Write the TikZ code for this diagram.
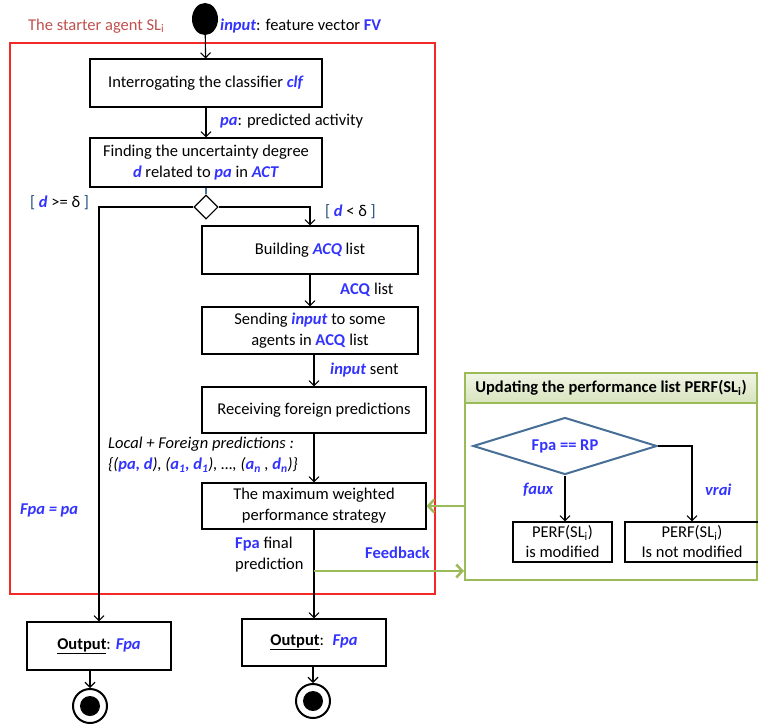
\documentclass[tikz,border=0pt]{standalone}
\usepackage{fontspec}
\setmainfont{Carlito}
\usetikzlibrary{shapes.geometric, arrows.meta, positioning}

\definecolor{varblue}{RGB}{51,51,255}
\definecolor{titlered}{RGB}{192,80,77}
\definecolor{framered}{RGB}{245,40,40}
\definecolor{vgreen}{RGB}{155,187,89}
\definecolor{dblue}{RGB}{70,110,150}
\definecolor{navy}{RGB}{31,73,125}

\newcommand{\vbi}[1]{\textcolor{varblue}{\textbf{\textit{#1}}}}
\newcommand{\vbf}[1]{\textcolor{varblue}{\textbf{#1}}}

\begin{document}
\begin{tikzpicture}[
    x=1pt, y=-1pt,
    >={Straight Barb[length=5pt,width=10pt]},
    every node/.style = {font=\fontsize{16.5}{21}\selectfont, inner sep=0pt},
    process/.style   = {rectangle, draw, line width=1.1pt, align=center},
    decision/.style  = {diamond, aspect=1, draw, line width=1.1pt,
                        minimum width=24pt, minimum height=24pt},
    startnode/.style = {ellipse, fill=black, minimum width=26pt, minimum height=32pt},
    endnode/.style   = {circle, draw, line width=2pt, minimum size=34pt,
                        path picture={\fill (path picture bounding box.center) circle (10pt);}},
    lbl/.style       = {anchor=west, align=left},
    solidarrow/.style = {->, line width=1.1pt},
    greenarrow/.style = {-{Straight Barb[length=6pt,width=13pt]}, line width=2.5pt, draw=vgreen}
  ]
  \useasboundingbox (0,0) rectangle (758,726);

  % starter agent frame
  \node[draw=framered, line width=1.2pt, minimum width=425pt, minimum height=551pt] (starter) at (222.5,318.5) {};
  \node[lbl, text=titlered] (title) at (28,26) {The starter agent SL\textsubscript{i}};

  % main flow
  \node[startnode] (start) at (205,19) {};
  \node[process, minimum width=232pt, minimum height=48pt] (clf) at (206,83)
       {Interrogating the classifier \vbi{clf}};
  \node[process, minimum width=232pt, minimum height=49pt] (degree) at (206,162.5)
       {Finding the uncertainty degree\\\vbi{d} related to \vbi{pa} in \vbi{ACT}};
  \node[decision] (dec) at (206,207) {};
  \node[process, minimum width=216pt, minimum height=48pt] (acq) at (310,250)
       {Building \vbi{ACQ} list};
  \node[process, minimum width=216pt, minimum height=47pt] (send) at (310,330.5)
       {Sending \vbi{input} to some\\agents in \vbf{ACQ} list};
  \node[process, minimum width=224pt, minimum height=46pt] (recv) at (314,410)
       {Receiving foreign predictions};
  \node[process, minimum width=224pt, minimum height=46pt] (mwps) at (314,506)
       {The maximum weighted\\performance strategy};
  \node[process, minimum width=144pt, minimum height=48pt] (out1) at (99,646)
       {\underline{\textbf{Output}}: \vbi{Fpa}};
  \node[process, minimum width=144pt, minimum height=47pt] (out2) at (314,642.5)
       {\underline{\textbf{Output}}:~ \vbi{Fpa}};
  \node[endnode] (end1) at (90,706) {};
  \node[endnode] (end2) at (313,701) {};

  % labels
  \node[lbl] (inlbl)   at (220,26)  {\vbi{input}: feature vector \vbf{FV}};
  \node[lbl] (palbl)   at (220,121) {\vbi{pa}: predicted activity};
  \node[lbl] (gelbl)   at (30,203)  {\textcolor{navy}{[} \vbi{d} >= δ \textcolor{navy}{]}};
  \node[lbl] (ltlbl)   at (325,212) {\textcolor{navy}{[} \vbi{d} < δ \textcolor{navy}{]}};
  \node[lbl] (acqlbl)  at (340,290) {\vbf{ACQ} list};
  \node[lbl] (sentlbl) at (330,370) {\vbi{input} sent};
  \node[lbl] (predlbl) at (108,455)
       {\textit{Local + Foreign predictions :}\\
        \textit{\{(\vbi{pa, d}), (\vbi{a\textsubscript{1}, d\textsubscript{1}}), …, (\vbi{a\textsubscript{n}} , \vbi{d\textsubscript{n}})\}}};
  \node[lbl] (fpalbl)  at (20,510)  {\vbi{Fpa = pa}};
  \node[lbl] (finlbl)  at (235,555) {\vbf{Fpa} final\\prediction};
  \node[lbl] (fblbl)   at (365,553) {\vbf{Feedback}};

  % performance update panel
  \node[draw=vgreen, line width=2pt, minimum width=292pt, minimum height=207pt] (panel) at (611,476.5) {};
  \node[draw=vgreen, line width=2pt, top color=vgreen!15, bottom color=vgreen!40,
        minimum width=292pt, minimum height=30pt] (head) at (611,388)
       {\textbf{Updating the performance list PERF(SL\textsubscript{i})}};
  \node[diamond, draw=dblue, line width=2pt, aspect=3.2,
        minimum width=184pt, minimum height=57pt] (pdec) at (565,446) {\vbf{Fpa == RP}};
  \node[process, minimum width=99pt, minimum height=40pt, font=\fontsize{16.5}{20}\selectfont] (perf1) at (562.5,542)
       {PERF(SL\textsubscript{i})\\is modified};
  \node[process, minimum width=134pt, minimum height=40pt, font=\fontsize{16.5}{20}\selectfont] (perf2) at (692,542)
       {PERF(SL\textsubscript{i})\\Is not modified};
  \node[lbl] (fauxlbl) at (523,490) {\vbi{faux}};
  \node[lbl] (vrailbl) at (705,490) {\vbi{vrai}};

  % arrows
  \draw[solidarrow] (start) -- (clf);
  \draw[solidarrow] (clf) -- (degree);
  \draw[line width=1.1pt, draw=dblue] (degree) -- (dec);
  \draw[solidarrow] (dec.west) -| (out1.north);
  \draw[solidarrow] (dec.east) -| (acq.north);
  \draw[solidarrow] (acq) -- (send);
  \draw[solidarrow] (send.south -| recv.north) -- (recv.north);
  \draw[solidarrow] (recv) -- (mwps);
  \draw[solidarrow] (mwps) -- (out2);
  \draw[solidarrow] (out1.south -| end1) -- (end1);
  \draw[solidarrow] (out2.south -| end2) -- (end2);
  \draw[solidarrow] (pdec.south) -- (pdec.south |- perf1.north);
  \draw[solidarrow] (pdec.east) -| (perf2.north);

  % feedback
  \coordinate (fb) at ([yshift=10pt]panel.south west);
  \draw[greenarrow] (mwps.south |- fb) -- (fb);
  \draw[greenarrow] (panel.west |- mwps.east) -- (mwps.east);

\end{tikzpicture}
\end{document}
